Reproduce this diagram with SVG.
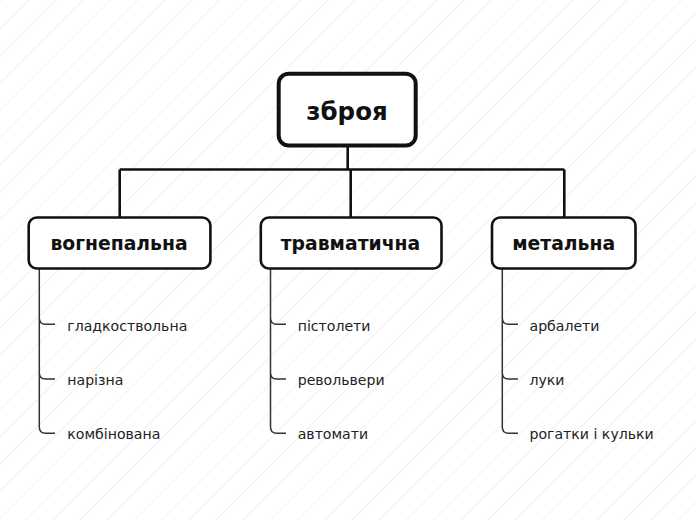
<svg xmlns="http://www.w3.org/2000/svg" width="696" height="520" viewBox="0 0 696 520">
  <defs>
    <pattern id="hatch" patternUnits="userSpaceOnUse" width="19.23" height="20" patternTransform="translate(28.3,0) rotate(45)">
      <line x1="0" y1="-5" x2="0" y2="25" stroke="#e6e6e6" stroke-width="1.1"/>
    </pattern>
    <style>
      .root rect { fill: #ffffff; stroke: #111111; stroke-width: 4; }
      .cat rect { fill: #ffffff; stroke: #111111; stroke-width: 2.6; }
      .root text { font-family: "DejaVu Sans", sans-serif; font-weight: bold; font-size: 24.5px; fill: #111111; text-anchor: middle; }
      .cat text { font-family: "DejaVu Sans", sans-serif; font-weight: bold; font-size: 18.8px; fill: #111111; text-anchor: middle; }
      .leaf text { font-family: "DejaVu Sans", sans-serif; font-size: 14.1px; fill: #222222; }
      .main { fill: none; stroke: #111111; stroke-width: 2.6; }
      .sub { fill: none; stroke: #333333; stroke-width: 1.5; }
    </style>
  </defs>
  <rect x="0" y="0" width="696" height="520" fill="#ffffff"/>
  <rect x="0" y="0" width="696" height="520" fill="url(#hatch)"/>

  <g id="connectors">
    <path class="main" d="M347.7,147 V169.5 M119.7,169.5 H564.3 M119.7,169.5 V217 M350.7,169.5 V217 M564.3,169.5 V217"/>
    <path class="sub" d="M39.3,269 V427 Q39.3,433.3 45.6,433.3 H55 M39.3,318 Q39.3,324.3 45.6,324.3 H55 M39.3,372.7 Q39.3,379 45.6,379 H55"/>
    <path class="sub" d="M270.5,269 V427 Q270.5,433.3 276.8,433.3 H286 M270.5,318 Q270.5,324.3 276.8,324.3 H286 M270.5,372.7 Q270.5,379 276.8,379 H286"/>
    <path class="sub" d="M502.3,269 V427 Q502.3,433.3 508.6,433.3 H518 M502.3,318 Q502.3,324.3 508.6,324.3 H518 M502.3,372.7 Q502.3,379 508.6,379 H518"/>
  </g>

  <g id="root" class="root">
    <rect x="278.7" y="73.7" width="137" height="71.8" rx="10"/>
    <text x="347" y="119.5">зброя</text>
  </g>

  <g id="vognepalna" class="cat">
    <rect x="28.7" y="217.5" width="181.7" height="51" rx="8"/>
    <text x="119" y="250">вогнепальна</text>
  </g>
  <g id="travmatychna" class="cat">
    <rect x="260.8" y="217.5" width="180.7" height="51" rx="8"/>
    <text x="350.5" y="250">травматична</text>
  </g>
  <g id="metalna" class="cat">
    <rect x="492" y="217.5" width="143.5" height="51" rx="8"/>
    <text x="563.7" y="250">метальна</text>
  </g>

  <g id="leaves1" class="leaf">
    <text x="67.3" y="330.5">гладкоствольна</text>
    <text x="67.3" y="384.5">нарізна</text>
    <text x="67.3" y="438.5">комбінована</text>
  </g>
  <g id="leaves2" class="leaf">
    <text x="297.7" y="330.5">пістолети</text>
    <text x="297.7" y="384.5">револьвери</text>
    <text x="297.7" y="438.5">автомати</text>
  </g>
  <g id="leaves3" class="leaf">
    <text x="529.5" y="330.5">арбалети</text>
    <text x="529.5" y="384.5">луки</text>
    <text x="529.5" y="438.5">рогатки і кульки</text>
  </g>
</svg>
